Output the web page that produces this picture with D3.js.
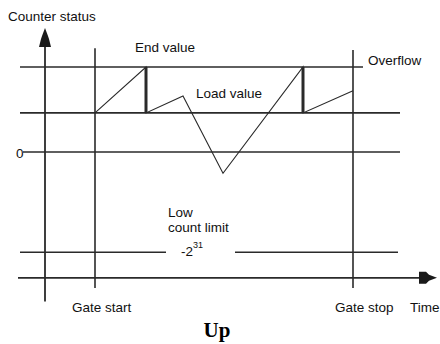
<!DOCTYPE html>
<html><head><meta charset="utf-8">
<script src="https://cdn.jsdelivr.net/npm/d3@7"></script>
<style>body{margin:0;background:#fff}svg{display:block}</style>
</head><body>
<svg id="c" width="440" height="344"></svg>
<script>
// Schematic data (time units, counter units)
const levelNames = ["End value", "Load value", "0", "Low count limit"];
const levels = {end: 100, load: 46, zero: 0, low: -118};
const gateTimes = {start: 50, stop: 308};
// counter trace: [time, counter]
const traceT = [50, 101, 101, 138, 178, 258, 258, 308];
const traceV = [46, 100, 46, 66, -25, 100, 46, 72];
const axisTimeLevel = -148;

const svg = d3.select("#c");
const x = d3.scaleLinear().domain([0, 395]).range([45, 440]);
const y = d3.scaleLinear().domain([0, 100]).range([152, 67]);
const ink = "#2a2a2a";

function hline(v, t0, t1, w) {
  svg.append("line").attr("x1", x(t0)).attr("x2", x(t1))
    .attr("y1", y(v)).attr("y2", y(v))
    .attr("stroke", ink).attr("stroke-width", w || 1.6);
}
function vline(t, v0, v1, w) {
  svg.append("line").attr("x1", x(t)).attr("x2", x(t))
    .attr("y1", y(v0)).attr("y2", y(v1))
    .attr("stroke", ink).attr("stroke-width", w || 1.6);
}

// horizontal reference lines
hline(levels.end, -25, 318);
hline(levels.load, -25, 355);
hline(levels.zero, -22, 355);
hline(levels.low, -25, 121);
hline(levels.low, 190, 353);
hline(axisTimeLevel, -27, 378, 1.8);

// vertical lines
vline(0, 124, -176, 1.8);
vline(gateTimes.start, 122, -160);
vline(gateTimes.stop, 120, -160);

// arrows
const ax = x(0), atop = y(146);
svg.append("path")
  .attr("d", `M${ax},${atop} L${ax-3},${atop+8} L${ax-4},${atop+11} L${ax-6},${atop+19} L${ax+6},${atop+19} L${ax+4},${atop+11} L${ax+3},${atop+8} Z`)
  .attr("fill", "#1a1a1a");
const ty = y(axisTimeLevel), tx = x(392);
svg.append("path")
  .attr("d", `M${tx},${ty} L${tx-8},${ty-3} L${tx-11},${ty-6} L${tx-18},${ty-6} L${tx-18},${ty+6} L${tx-11},${ty+6} L${tx-8},${ty+3} Z`)
  .attr("fill", "#1a1a1a");

// counter trace
const pts = traceT.map((t, i) => [t, traceV[i]]);
svg.append("path")
  .attr("d", d3.line().x(d => x(d[0])).y(d => y(d[1]))(pts))
  .attr("fill", "none").attr("stroke", ink).attr("stroke-width", 1.1);
for (let i = 1; i < pts.length; i++) {
  if (pts[i][0] === pts[i-1][0]) vline(pts[i][0], pts[i-1][1], pts[i][1], 3);
}

// text
function txt(s, px, py, opts) {
  opts = opts || {};
  return svg.append("text").attr("x", px).attr("y", py)
    .attr("font-family", opts.family || "Liberation Sans, Arial, sans-serif")
    .attr("font-size", opts.size || 13.5)
    .attr("font-weight", opts.weight || "normal")
    .attr("text-anchor", opts.anchor || "start")
    .attr("fill", opts.fill || "#111")
    .text(s);
}
txt("Counter status", 8, 21);
txt(levelNames[0], 135, 52);
txt("Overflow", 368, 65);
txt(levelNames[1], 196, 98);
txt(levelNames[2], 16, 158);
txt("Low", 168, 217);
txt("count limit", 168, 232);
const t31 = txt("-2", 181, 256);
t31.append("tspan").attr("dy", -8).attr("font-size", 9).text("31");
txt("Gate start", 72, 312);
txt("Gate stop", 335, 312);
txt("Time", 410, 312);
txt("Up", 217, 337, {family: "Liberation Serif, Times New Roman, serif", size: 21, weight: "bold", anchor: "middle", fill: "#000"});
</script>
</body></html>
